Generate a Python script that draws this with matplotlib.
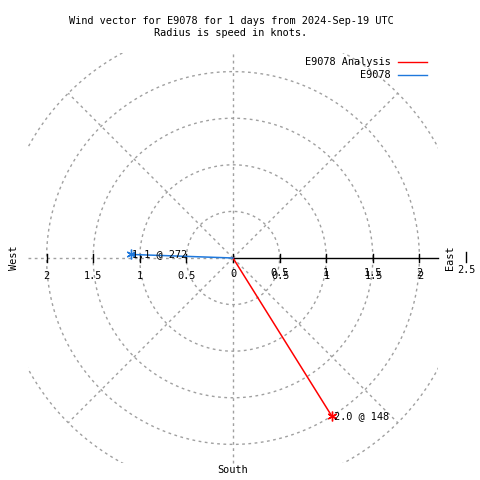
import numpy as np
import matplotlib
matplotlib.use("Agg")
import matplotlib.pyplot as plt
from matplotlib.patches import Rectangle

# dados do vetor de vento
series = ["E9078 Analysis", "E9078"]
speeds = [2.0, 1.1]          # nós
directions = [148, 272]      # graus
colors = ["#ff0000", "#1e78dc"]

rings = [0.5, 1.0, 1.5, 2.0, 2.5]
spokes = [45, 135, 225, 315]
r_ticks = [0.5, 1.0, 1.5, 2.0]
tick_labels = ["0.5", "1", "1.5", "2"]
rmax = 2.2

title = "Wind vector for E9078 for 1 days from 2024-Sep-19 UTC\nRadius is speed in knots."

plt.rcParams["font.family"] = "DejaVu Sans Mono"
fs = 7.4
grid_kw = dict(color="#a0a0a0", lw=1.0, ls=(0, (2, 2.5)))

fig = plt.figure(figsize=(4.8, 4.8), dpi=100)
ax = fig.add_axes([0, 0, 1, 1])
scale = 93.2
cx, cy = 233, 258
ax.set_xlim(-cx / scale, (480 - cx) / scale)
ax.set_ylim(-(480 - cy) / scale, cy / scale)
ax.axis("off")

clip = Rectangle((-rmax, -rmax), 2 * rmax, 2 * rmax, transform=ax.transData)

# grade polar
t = np.linspace(0, 2 * np.pi, 400)
for r in rings:
    ln, = ax.plot(r * np.cos(t), r * np.sin(t), **grid_kw)
    ln.set_clip_path(clip)
for a in spokes:
    rad = np.deg2rad(a)
    ln, = ax.plot([0, 2.5 * np.cos(rad)], [0, 2.5 * np.sin(rad)], **grid_kw)
    ln.set_clip_path(clip)
ax.plot([0, 0], [-rmax, rmax], **grid_kw)
ax.plot([-rmax, 0], [0, 0], **grid_kw)
ax.plot([0, rmax], [0, 0], color="black", lw=1)

# marcas e rótulos
tk = 0.04
for v, lab in zip(r_ticks, tick_labels):
    for s in (-1, 1):
        ax.plot([s * v, s * v], [-tk, tk], color="black", lw=1)
    ax.text(-v, -0.19, lab, ha="center", va="center", fontsize=fs)
    ax.text(v, -0.16, lab, ha="center", va="center", fontsize=fs)
    ax.text(v + 0.01, -0.19, lab, ha="center", va="center", fontsize=fs)
ax.plot([0, 0], [-tk, tk], color="black", lw=1)
ax.text(0, -0.17, "0", ha="center", va="center", fontsize=fs)
ax.plot([2.5, 2.5], [-0.04, 0.06], color="black", lw=1)
ax.text(2.5, -0.13, "2.5", ha="center", va="center", fontsize=fs)

ax.text(-2.35, 0, "West", rotation=90, ha="center", va="center", fontsize=fs)
ax.text(2.33, 0, "East", rotation=90, ha="center", va="center", fontsize=fs)
ax.text(0, -2.28, "South", ha="center", va="center", fontsize=fs)

# vetores
for name, spd, d, c in zip(series, speeds, directions, colors):
    rad = np.deg2rad(d)
    x, y = spd * np.sin(rad), spd * np.cos(rad)
    ax.plot([0, x], [0, y], color=c, lw=1.1, label=name)
    ax.plot([x], [y], marker=(6, 2, 0), color=c, ms=7, mew=1)
    ax.text(x + 0.02, y, f"{spd:.1f} @ {d}", ha="left", va="center", fontsize=fs)

# legenda
for i, (name, c) in enumerate(zip(series, colors)):
    yy = (cy - (62 + 13 * i)) / scale
    ax.text((391 - cx) / scale, yy, name, ha="right", va="center", fontsize=fs)
    ax.plot([(398 - cx) / scale, (427 - cx) / scale], [yy, yy], color=c, lw=1)

fig.text(231 / 480, 1 - 27 / 480, title, ha="center", va="center",
         fontsize=fs, linespacing=1.15)

fig.savefig("out.png", dpi=100)
